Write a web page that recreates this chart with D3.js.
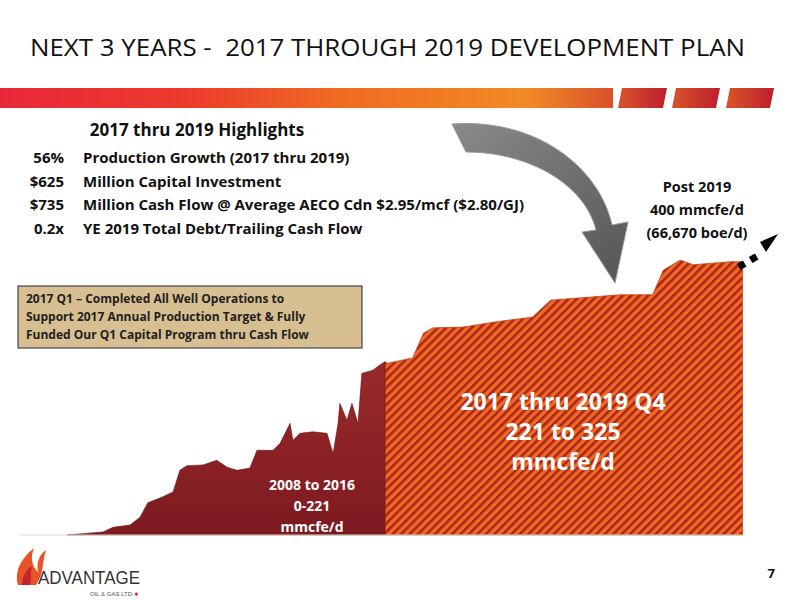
<!DOCTYPE html>
<html><head><meta charset="utf-8">
<script src="https://cdn.jsdelivr.net/npm/d3@7"></script>
<style>body{margin:0;background:#fff} text{white-space:pre}</style>
</head><body>
<div id="chart"></div>
<script>
// Production history 2008-2016 (year, mmcfe/d)
const histYears = [2008.06,2009.07,2009.35,2009.83,2010.11,2010.33,2010.67,2011.04,2011.23,2011.43,2011.88,2012.27,2012.56,2012.84,2013.2,2013.4,2013.85,2014.05,2014.33,2014.41,2014.61,2014.97,2015.37,2015.54,2015.68,2015.73,2015.93,2016.07,2016.24,2016.35,2016.66,2016.86,2017.0];
const histValues = [0,4,10,13,23,42,48,56,84,90,91,97,88,84,87,110,110,119,145,123,132,134,132,106,145,171,149,171,145,210,214,221,225];
// Plan 2017-2019
const planYears = [2017.0,2017.02,2017.23,2017.32,2017.4,2017.65,2017.93,2018.23,2018.38,2018.63,2018.96,2019.23,2019.32,2019.46,2019.57,2019.73,2019.88,2019.98];
const planValues = [225,223,230,262,269,270,277,283,305,308,312,312,344,357,351,353,355,355];

const highlightNums = ["56%","$625","$735","0.2x"];
const highlightTexts = ["Production Growth (2017 thru 2019)","Million Capital Investment","Million Cash Flow @ Average AECO Cdn $2.95/mcf ($2.80/GJ)","YE 2019 Total Debt/Trailing Cash Flow"];
const boxLines = ["2017 Q1 \u2013 Completed All Well Operations to","Support 2017 Annual Production Target & Fully","Funded Our Q1 Capital Program thru Cash Flow"];
const postLines = ["Post 2019","400 mmcfe/d","(66,670 boe/d)"];

const W = 800, H = 600;
const font = "'Open Sans', sans-serif";
const svg = d3.select("#chart").append("svg").attr("width", W).attr("height", H);
const defs = svg.append("defs");

// x: history compressed, plan stretched
const x = d3.scaleLinear().domain([2008, 2017, 2020]).range([65, 385, 745]);
const y = d3.scaleLinear().domain([0, 400]).range([535, 227]);

// header band gradient
const g1 = defs.append("linearGradient").attr("id", "band");
[["0%","#e8283a"],["30%","#ec3a2c"],["55%","#f06a22"],["86%","#f28a24"],["100%","#d9502a"]]
  .forEach(s => g1.append("stop").attr("offset", s[0]).attr("stop-color", s[1]));
const g2 = defs.append("linearGradient").attr("id", "seg");
[["0%","#d8542a"],["100%","#be1e2d"]].forEach(s => g2.append("stop").attr("offset", s[0]).attr("stop-color", s[1]));

svg.append("rect").attr("x", 0).attr("y", 88).attr("width", 613).attr("height", 20).attr("fill", "url(#band)");
[[618,667],[672,720],[726,774]].forEach(s => {
  svg.append("path").attr("d", `M${s[0]},108 L${s[0]+4},88 L${s[1]},88 L${s[1]-4},108 Z`).attr("fill", "url(#seg)");
});

svg.append("text").attr("x", 30).attr("y", 56).attr("font-family", font).attr("font-size", 24)
  .attr("fill", "#111").attr("textLength", 715).attr("lengthAdjust", "spacingAndGlyphs")
  .text("NEXT 3 YEARS -  2017 THROUGH 2019 DEVELOPMENT PLAN");

// hatch pattern
const pat = defs.append("pattern").attr("id", "hatch").attr("patternUnits", "userSpaceOnUse")
  .attr("width", 6).attr("height", 6).attr("patternTransform", "rotate(45)");
pat.append("rect").attr("width", 6).attr("height", 6).attr("fill", "#f26a21");
pat.append("rect").attr("width", 2.6).attr("height", 6).attr("fill", "#a8261d");

const area = d3.area().x(d => x(d[0])).y0(y(0)).y1(d => y(d[1]));
const grad3 = defs.append("linearGradient").attr("id", "red3d").attr("x1", 0).attr("y1", 0).attr("x2", 0).attr("y2", 1);
[["0%","#9a2a2c"],["100%","#7d1a1f"]].forEach(s => grad3.append("stop").attr("offset", s[0]).attr("stop-color", s[1]));

svg.append("path").datum(planYears.map((v, i) => [v, planValues[i]]))
  .attr("d", area).attr("fill", "url(#hatch)").attr("stroke", "#c9451c").attr("stroke-width", 0.8);
svg.append("path").datum(histYears.map((v, i) => [v, histValues[i]]))
  .attr("d", area).attr("fill", "url(#red3d)").attr("stroke", "#6b1518").attr("stroke-width", 0.6);
svg.append("line").attr("x1", 20).attr("x2", 745).attr("y1", y(0)).attr("y2", y(0)).attr("stroke", "#d9d9d9");

// big curved gray arrow
const ga = defs.append("linearGradient").attr("id", "arr").attr("x1", 0).attr("y1", 0).attr("x2", 1).attr("y2", 1);
[["0%","#8a8a8a"],["100%","#555"]].forEach(s => ga.append("stop").attr("offset", s[0]).attr("stop-color", s[1]));
svg.append("path")
  .attr("d", "M452,124 C540,118 600,170 612,225 L628,222 L615,283 L582,232 L596,230 C585,185 530,152 466,152 Z")
  .attr("fill", "url(#arr)").attr("stroke", "#999").attr("stroke-width", 1);

// dashed arrow to post 2019
[[738,262],[750,255]].forEach(p => svg.append("rect").attr("x", p[0]).attr("y", p[1]).attr("width", 7).attr("height", 7)
  .attr("transform", `rotate(-30,${p[0]+3},${p[1]+3})`).attr("fill", "#000"));
svg.append("path").attr("d", "M760,242 L778,234 L766,252 Z").attr("fill", "#000");

// highlights
svg.append("text").attr("x", 197).attr("y", 136).attr("text-anchor", "middle").attr("font-family", font)
  .attr("font-weight", "bold").attr("font-size", 17).attr("fill", "#111").text("2017 thru 2019 Highlights");
highlightNums.forEach((n, i) => {
  const yy = 163 + i * 23.5;
  svg.append("text").attr("x", 64).attr("y", yy).attr("text-anchor", "end").attr("font-family", font)
    .attr("font-weight", "bold").attr("font-size", 15).attr("fill", "#111").text(n);
  svg.append("text").attr("x", 83).attr("y", yy).attr("font-family", font)
    .attr("font-weight", "bold").attr("font-size", 15).attr("fill", "#111").text(highlightTexts[i]);
});

// tan box
svg.append("rect").attr("x", 18).attr("y", 286).attr("width", 344).attr("height", 62)
  .attr("fill", "#d8bf91").attr("stroke", "#444").attr("stroke-width", 1.2);
boxLines.forEach((t, i) => svg.append("text").attr("x", 26).attr("y", 303 + i * 18).attr("font-family", font)
  .attr("font-weight", "bold").attr("font-size", 12).attr("fill", "#222").text(t));

postLines.forEach((t, i) => svg.append("text").attr("x", 697).attr("y", 192 + i * 23).attr("text-anchor", "middle")
  .attr("font-family", font).attr("font-weight", "bold").attr("font-size", 14.5).attr("fill", "#111").text(t));

["2017 thru 2019 Q4","221 to 325","mmcfe/d"].forEach((t, i) => svg.append("text").attr("x", 563).attr("y", 410 + i * 30)
  .attr("text-anchor", "middle").attr("font-family", font).attr("font-weight", "bold").attr("font-size", 23).attr("fill", "#fff").text(t));
["2008 to 2016","0-221","mmcfe/d"].forEach((t, i) => svg.append("text").attr("x", 312).attr("y", 490 + i * 21)
  .attr("text-anchor", "middle").attr("font-family", font).attr("font-weight", "bold").attr("font-size", 14).attr("fill", "#fff").text(t));

svg.append("text").attr("x", 775).attr("y", 578).attr("text-anchor", "end").attr("font-family", font)
  .attr("font-weight", "bold").attr("font-size", 13).attr("fill", "#111").text("7");

// logo
svg.append("path").attr("d", "M18,585 C14,570 22,558 34,548 C30,558 32,566 38,572 C36,562 40,554 46,550 C42,562 44,574 36,585 Z").attr("fill", "#e8542a");
svg.append("path").attr("d", "M22,585 C22,575 28,568 32,566 C30,574 32,580 30,585 Z").attr("fill", "#c0262d");
svg.append("text").attr("x", 38).attr("y", 584).attr("font-family", "'Liberation Sans', sans-serif").attr("font-size", 19)
  .attr("fill", "#333").attr("textLength", 102).attr("lengthAdjust", "spacingAndGlyphs").text("ADVANTAGE");
svg.append("text").attr("x", 90).attr("y", 596).attr("font-family", "'Liberation Sans', sans-serif").attr("font-size", 6)
  .attr("fill", "#555").text("OIL & GAS LTD.");
svg.append("text").attr("x", 133).attr("y", 597).attr("font-family", font).attr("font-size", 8).attr("fill", "#d22").text("\u2726");
</script>
</body></html>
